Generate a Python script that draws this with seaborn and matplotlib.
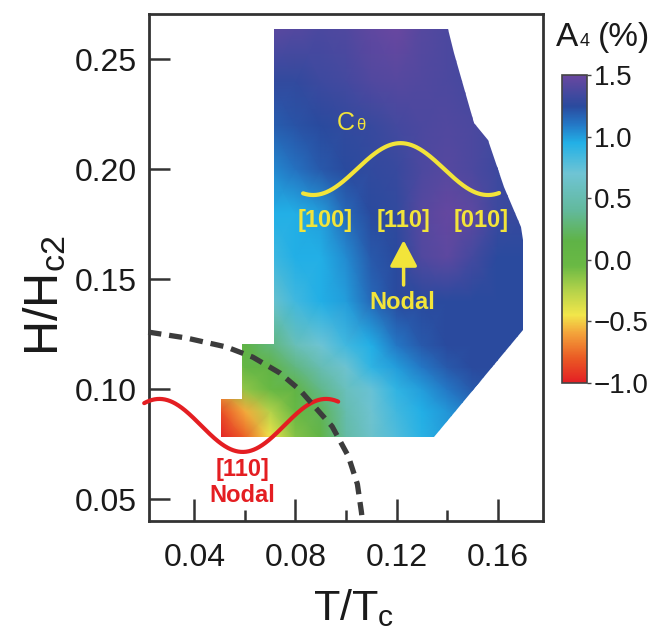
import numpy as np
import matplotlib
matplotlib.use("Agg")
import matplotlib.pyplot as plt
from matplotlib.colors import LinearSegmentedColormap, Normalize
from matplotlib.patches import Polygon
import seaborn as sns

# ---- anisotropy map A4 (%) on a T/Tc x H/Hc2 grid ----
t_grid = [0.05, 0.06, 0.07, 0.08, 0.09, 0.10, 0.11, 0.12, 0.13, 0.14, 0.15, 0.16, 0.17]
h_grid = [0.078, 0.09, 0.10, 0.11, 0.12, 0.14, 0.16, 0.18, 0.20, 0.22, 0.24, 0.265]
a4_h078 = [-1.0, -0.78, -0.45, -0.12, 0.12, 0.45, 0.65, 0.80, 0.92, 1.00, 1.05, 1.10, 1.10]
a4_h090 = [-0.85, -0.58, -0.25, 0.00, 0.20, 0.50, 0.68, 0.85, 0.95, 1.02, 1.10, 1.15, 1.20]
a4_h100 = [-0.60, -0.15, 0.00, 0.12, 0.35, 0.58, 0.72, 0.90, 1.00, 1.10, 1.20, 1.25, 1.25]
a4_h110 = [-0.20, 0.05, 0.12, 0.32, 0.52, 0.68, 0.90, 1.00, 1.10, 1.20, 1.25, 1.25, 1.25]
a4_h120 = [0.10, 0.15, 0.30, 0.55, 0.70, 0.85, 0.95, 1.10, 1.20, 1.25, 1.25, 1.25, 1.25]
a4_h140 = [0.50, 0.55, 0.65, 0.85, 0.95, 1.00, 1.15, 1.25, 1.25, 1.25, 1.25, 1.25, 1.25]
a4_h160 = [0.80, 0.80, 0.85, 0.95, 0.95, 1.05, 1.20, 1.25, 1.40, 1.45, 1.35, 1.25, 1.25]
a4_h180 = [0.90, 0.90, 0.95, 0.95, 1.00, 1.15, 1.25, 1.28, 1.42, 1.48, 1.45, 1.32, 1.30]
a4_h200 = [1.05, 1.05, 1.05, 1.12, 1.20, 1.25, 1.28, 1.30, 1.38, 1.42, 1.38, 1.32, 1.30]
a4_h220 = [1.18, 1.18, 1.18, 1.22, 1.25, 1.28, 1.30, 1.35, 1.38, 1.40, 1.38, 1.35, 1.35]
a4_h240 = [1.30, 1.30, 1.28, 1.28, 1.32, 1.35, 1.40, 1.42, 1.40, 1.38, 1.35, 1.35, 1.35]
a4_h265 = [1.45, 1.45, 1.45, 1.42, 1.38, 1.40, 1.46, 1.50, 1.42, 1.38, 1.35, 1.35, 1.35]

# outline of the measured region
region_t = [0.0507, 0.0507, 0.0587, 0.0587, 0.0714, 0.0714, 0.1403, 0.1427, 0.1507,
            0.1562, 0.1626, 0.1694, 0.1702, 0.1702, 0.1347]
region_h = [0.0782, 0.0955, 0.0955, 0.1205, 0.1205, 0.2636, 0.2636, 0.2527, 0.2209,
            0.2132, 0.1918, 0.1736, 0.1677, 0.1268, 0.0782]

# dashed phase boundary
boundary_t = [0.0217, 0.0368, 0.0527, 0.0631, 0.0738, 0.0818, 0.0898, 0.0945, 0.1009,
              0.1045, 0.1061, 0.1065]
boundary_h = [0.1259, 0.1232, 0.1191, 0.1145, 0.1073, 0.0995, 0.0891, 0.0830, 0.0695,
              0.0568, 0.0441, 0.0400]

# schematic C_theta angular curves: (centre T, mid H, amplitude, half period, T start, T end)
red_curve = dict(t0=0.0591, mid=0.08345, amp=-0.01205, half=0.033, t_start=0.0201, t_end=0.0969)
yellow_curve = dict(t0=0.1216, mid=0.2000, amp=0.0118, half=0.0346, t_start=0.0830, t_end=0.1606)

# colour scale
cmap_values = [-1.0, -0.8, -0.6, -0.45, -0.25, -0.05, 0.15, 0.4, 0.7, 0.95, 1.1, 1.25, 1.5]
cmap_colors = ["#e31e24", "#ea5a24", "#f3a23a", "#f2e64a", "#b4d24a", "#6ab944", "#5fb346",
               "#62b99c", "#6fc4d4", "#22b0e6", "#2478c6", "#2a4a9e", "#6a47a0"]
cbar_ticks = [-1.0, -0.5, 0.0, 0.5, 1.0, 1.5]
cbar_labels = ["\u22121.0", "\u22120.5", "0.0", "0.5", "1.0", "1.5"]

x_ticks = [0.04, 0.08, 0.12, 0.16]
x_minor = [0.06, 0.10, 0.14]
y_ticks = [0.05, 0.10, 0.15, 0.20, 0.25]

YELLOW = "#f2e43a"
RED = "#e41e22"
INK = "#333333"

sns.set_theme(style="ticks")
plt.rcParams["font.family"] = ["Liberation Sans", "DejaVu Sans"]
plt.rcParams["mathtext.fontset"] = "custom"
plt.rcParams["mathtext.rm"] = "Liberation Sans"
plt.rcParams["mathtext.it"] = "Liberation Sans"
plt.rcParams["mathtext.default"] = "regular"

fig = plt.figure(figsize=(6.57, 6.37), dpi=100)
ax = fig.add_axes([0.2268, 0.1821, 0.5997, 0.7959])

vmin, vmax = cbar_ticks[0], cbar_ticks[-1]
cmap = LinearSegmentedColormap.from_list(
    "a4", [((v - vmin) / (vmax - vmin), c) for v, c in zip(cmap_values, cmap_colors)], N=512)
norm = Normalize(vmin, vmax)

a4 = np.array([a4_h078, a4_h090, a4_h100, a4_h110, a4_h120, a4_h140,
               a4_h160, a4_h180, a4_h200, a4_h220, a4_h240, a4_h265])
T, H = np.meshgrid(t_grid, h_grid)
mesh = ax.pcolormesh(T, H, a4, cmap=cmap, norm=norm, shading="gouraud", zorder=1)
outline = Polygon(np.column_stack([region_t, region_h]), closed=True,
                  facecolor="none", edgecolor="none", transform=ax.transData)
ax.add_patch(outline)
mesh.set_clip_path(outline)

# angular-dependence sketches
for crv, col, clip in [(red_curve, RED, False), (yellow_curve, YELLOW, True)]:
    tt = np.linspace(crv["t_start"], crv["t_end"], 300)
    hh = crv["mid"] + crv["amp"] * np.cos(np.pi * (tt - crv["t0"]) / crv["half"])
    sns.lineplot(x=tt, y=hh, ax=ax, color=col, lw=3.0, sort=False, estimator=None,
                 zorder=3, clip_on=clip)

sns.lineplot(x=boundary_t, y=boundary_h, ax=ax, color="#3c3c3c", lw=3.8, sort=False,
             estimator=None, linestyle=(0, (2.5, 1.5)), zorder=4, clip_on=False)

# annotations
ax.text(0.0965, 0.2177, "C", color=YELLOW, fontsize=18, ha="left", va="baseline", zorder=5)
ax.text(0.1040, 0.2177, "\u03b8", color=YELLOW, fontsize=12, ha="left", va="baseline", zorder=5)
for tx, lab in [(0.0917, "[100]"), (0.1228, "[110]"), (0.1534, "[010]")]:
    ax.text(tx, 0.1764, lab, color=YELLOW, fontsize=17, fontweight="bold",
            ha="center", va="center", zorder=5)
ax.annotate("", xy=(0.1228, 0.1677), xytext=(0.1228, 0.1473),
            arrowprops=dict(arrowstyle="-|>,head_length=0.8,head_width=0.42",
                            color=YELLOW, lw=2.5, shrinkA=0, shrinkB=0,
                            mutation_scale=20), zorder=5)
ax.text(0.1224, 0.1395, "Nodal", color=YELLOW, fontsize=17, fontweight="bold",
        ha="center", va="center", zorder=5)
ax.text(0.0591, 0.0632, "[110]", color=RED, fontsize=17, fontweight="bold",
        ha="center", va="center", zorder=5)
ax.text(0.0591, 0.0518, "Nodal", color=RED, fontsize=17, fontweight="bold",
        ha="center", va="center", zorder=5)

# axes
ax.set_xlim(0.022, 0.178)
ax.set_ylim(0.04, 0.2705)
ax.set_xticks(x_ticks)
ax.set_xticks(x_minor, minor=True)
ax.set_yticks(y_ticks)
ax.set_xticklabels([f"{v:.2f}" for v in x_ticks])
ax.set_yticklabels([f"{v:.2f}" for v in y_ticks])
ax.tick_params(which="both", direction="in", color=INK, labelcolor="#1a1a1a",
               top=False, right=False)
ax.tick_params(axis="y", length=15, width=1.8, pad=8.6, labelsize=23)
ax.tick_params(axis="x", which="major", length=16, width=1.8, pad=16, labelsize=23)
ax.tick_params(axis="x", which="minor", length=8, width=1.8)
for sp in ax.spines.values():
    sp.set_visible(True)
    sp.set_linewidth(2.0)
    sp.set_color(INK)
ax.set_facecolor("white")

ax.set_xlabel("T/T$_c$", fontsize=31, color="#1a1a1a")
ax.xaxis.set_label_coords(0.52, -0.13)
ax.set_ylabel("H/H$_{c2}$", fontsize=35, color="#1a1a1a")
ax.yaxis.set_label_coords(-0.205, 0.445)

# colour bar
cax = fig.add_axes([0.8554, 0.3987, 0.038, 0.4835])
cb = fig.colorbar(mesh, cax=cax, ticks=cbar_ticks)
cb.ax.set_yticklabels(cbar_labels)
cb.outline.set_linewidth(1.2)
cb.outline.set_edgecolor("#444444")
cax.tick_params(length=3, width=1, pad=2, labelsize=20, color="#444444", labelcolor="#1a1a1a")

fig.text(556 / 657, 1 - 46 / 637, "A", fontsize=24, color="#1a1a1a", ha="left", va="baseline")
fig.text(580 / 657, 1 - 46 / 637, "4", fontsize=13, color="#1a1a1a", ha="left", va="baseline")
fig.text(598 / 657, 1 - 46 / 637, "(%)", fontsize=24, color="#1a1a1a", ha="left", va="baseline")

fig.savefig("out.png", dpi=100, facecolor="white")
